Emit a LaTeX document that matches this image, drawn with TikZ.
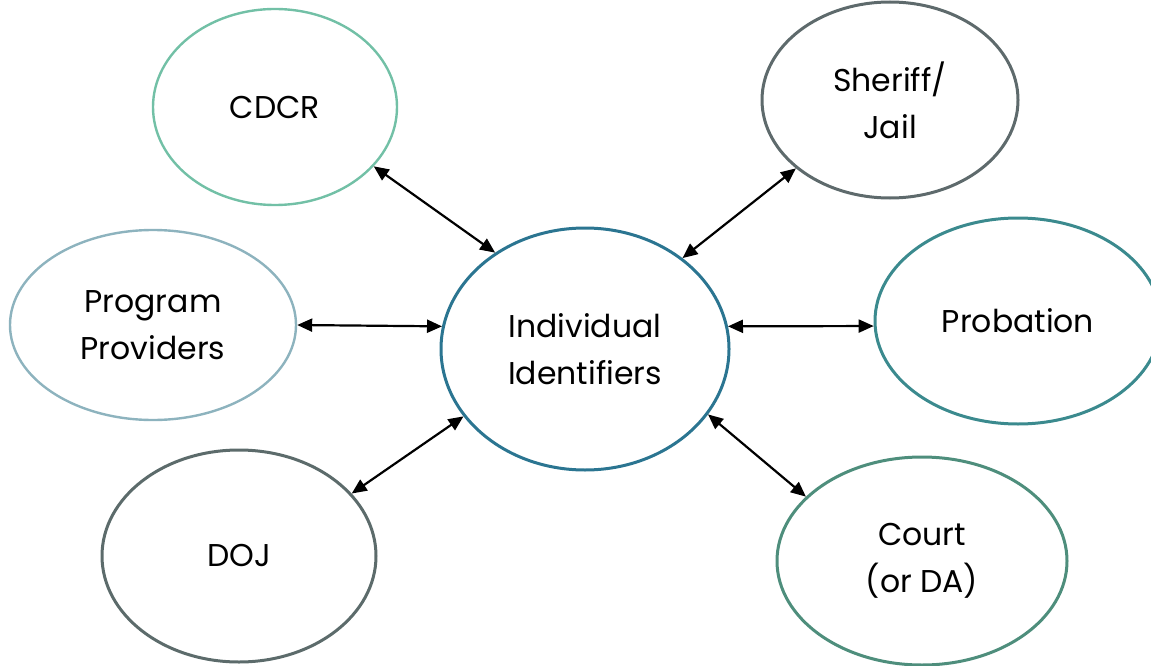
\documentclass[tikz,border=0pt]{standalone}
\usepackage{fontspec}
\setmainfont{Poppins}
\usetikzlibrary{shapes.geometric,arrows.meta}
\definecolor{cCDCR}{HTML}{72C0A6}
\definecolor{cProg}{HTML}{8DB3BE}
\definecolor{cDOJ}{HTML}{5C6B6B}
\definecolor{cSher}{HTML}{5E6A6C}
\definecolor{cProb}{HTML}{3B8A8E}
\definecolor{cCourt}{HTML}{4E8E7C}
\definecolor{cCent}{HTML}{2B7591}
\tikzset{
  bubble/.style={ellipse, draw, inner sep=0pt, align=center, line width=3pt,
    font=\fontsize{31.5}{47}\selectfont},
  link/.style={{Triangle[length=15pt,width=13pt]}-{Triangle[length=15pt,width=13pt]}, line width=2.2pt, black}
}
\begin{document}
\begin{tikzpicture}[x=1pt,y=-1pt]
\useasboundingbox (0,0) rectangle (1151,666);
\node[bubble, draw=cCDCR, line width=2.4pt, minimum width=244pt, minimum height=196pt] (cdcr) at (275,107) {CDCR};
\node[bubble, draw=cProg, line width=2.4pt, minimum width=286pt, minimum height=190pt] (prog) at (153,325) {Program\\Providers};
\node[bubble, draw=cDOJ, minimum width=274pt, minimum height=212pt] (doj) at (239,556) {DOJ};
\node[bubble, draw=cSher, minimum width=256pt, minimum height=196pt] (sher) at (890,100) {Sheriff/\\Jail};
\node[bubble, draw=cProb, minimum width=286pt, minimum height=206pt] (prob) at (1018,321) {Probation};
\node[bubble, draw=cCourt, minimum width=290pt, minimum height=208pt] (court) at (922,561) {Court\\(or DA)};
\node[bubble, draw=cCent, minimum width=288pt, minimum height=242pt] (cent) at (585,349) {Individual\\Identifiers};
\draw[link] (cdcr.-31.4) -- (cent.133.3);
\draw[link] (sher.-144) -- (cent.43.9);
\draw[link] (prog.-0.7) -- (cent.171);
\draw[link] (cent.9) -- (prob.182);
\draw[link] (doj.29.1) -- (cent.209.8);
\draw[link] (cent.-28.6) -- (court.151.2);
\end{tikzpicture}
\end{document}
